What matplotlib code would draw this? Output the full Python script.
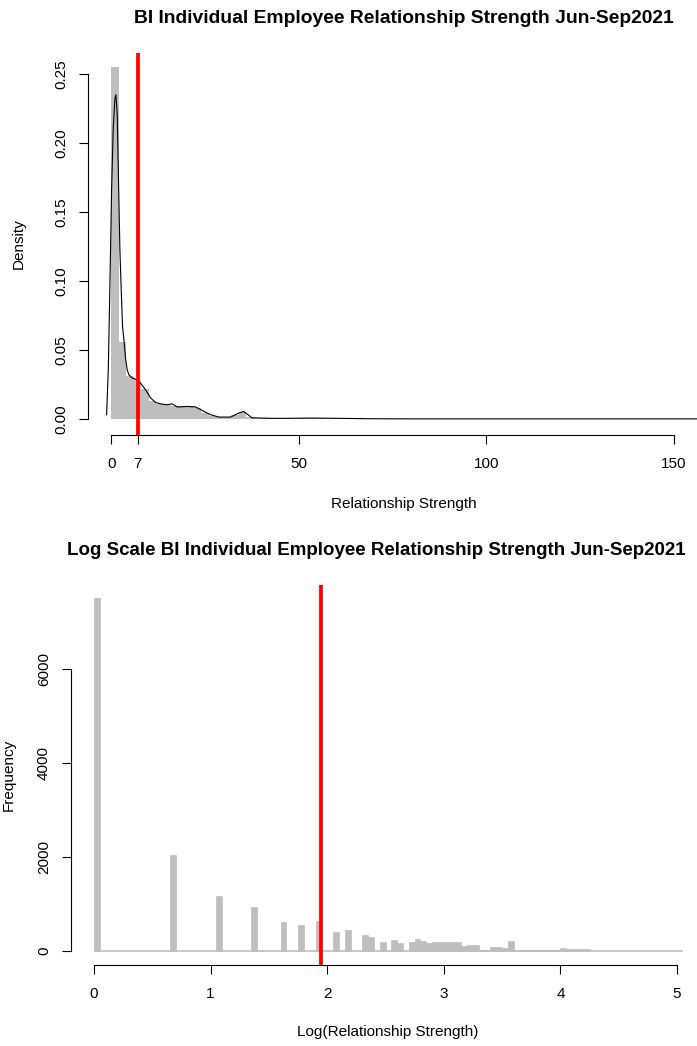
import numpy as np
import matplotlib
matplotlib.use("Agg")
import matplotlib.pyplot as plt

plt.rcParams['font.family'] = ['Liberation Sans', 'DejaVu Sans']

# ---------------- data: top panel (density histogram, bin width 2) ----------------
top_bin_edges = [0, 2, 4, 6, 8, 10, 12, 14, 16, 18, 20, 22, 24, 26, 28, 30, 32, 34,
                 36, 38, 40, 42, 44, 46, 48, 50, 52, 54, 56, 58, 60]
top_density = [0.2549, 0.0556, 0.0313, 0.0284, 0.0217, 0.0127, 0.0110, 0.0101,
               0.0094, 0.0094, 0.0094, 0.0080, 0.0043, 0.0019, 0.0014, 0.0014,
               0.0030, 0.0048, 0.0014, 0.0006, 0.0005, 0.0005, 0.0005, 0.0005,
               0.0005, 0.0006, 0.0006, 0.0005, 0.0005, 0.0005]

kde_x = [-1.25, -0.8, -0.36, 0.08, 0.52, 0.96, 1.23, 1.58, 1.94, 2.3, 2.65, 3.0,
         3.37, 3.8, 4.24, 4.7, 5.58, 6.47, 7.8, 9.13, 10.5, 11.8, 13.1, 14.9,
         16.2, 17.6, 20.2, 22.5, 24.7, 26.5, 28.7, 31.8, 34.0, 35.3, 36.2, 37.5,
         42.3, 47.6, 52.9, 60.0, 68.9, 80.0, 100.0, 130.0, 162.0]
kde_y = [0.0031, 0.0357, 0.098, 0.166, 0.211, 0.232, 0.235, 0.221, 0.1705, 0.122,
         0.0934, 0.067, 0.0573, 0.044, 0.0356, 0.032, 0.0296, 0.0289, 0.026,
         0.0212, 0.0152, 0.012, 0.011, 0.0103, 0.011, 0.0087, 0.0091, 0.0087,
         0.0055, 0.0031, 0.0014, 0.0014, 0.0043, 0.0055, 0.0036, 0.0009, 0.0005,
         0.0005, 0.0007, 0.0005, 0.0002, 0.0001, 0.0001, 0.0001, 0.0001]

top_marker = 7
top_xticks = [0, 7, 50, 100, 150]
top_yticks = [0.00, 0.05, 0.10, 0.15, 0.20, 0.25]
top_ytick_labels = ['0.00', '0.05', '0.10', '0.15', '0.20', '0.25']

# ---------------- data: bottom panel (frequency histogram of log values, bin width 0.05) ----------------
log_bin_left = [0.00, 0.65, 1.05, 1.35, 1.60, 1.75, 1.90, 2.05, 2.15, 2.30, 2.35,
                2.45, 2.55, 2.60, 2.70, 2.75, 2.80, 2.85, 2.90, 2.95, 3.00, 3.05,
                3.10, 3.15, 3.20, 3.25, 3.30, 3.35, 3.40, 3.45, 3.50, 3.55, 3.60,
                3.65, 3.70, 3.75, 3.80, 3.85, 3.90, 3.95, 4.00, 4.05, 4.10, 4.15,
                4.20]
log_counts = [7514, 2030, 1160, 925, 605, 540, 625, 390, 448, 326, 284,
              177, 220, 156, 177, 241, 198, 160, 175, 175, 175, 175,
              175, 100, 115, 115, 15, 15, 70, 80, 50, 200, 15,
              15, 15, 15, 15, 15, 15, 15, 50, 40, 28, 28,
              28]
log_bin_width = 0.05
log_range_end = 5.05
bottom_marker = np.log(7)
bottom_xticks = [0, 1, 2, 3, 4, 5]
bottom_yticks = [0, 2000, 4000, 6000]

GRAY = '#BEBEBE'
RED = '#FF0000'

W, H = 697, 1046
fig = plt.figure(figsize=(W / 100, H / 100), dpi=100)


def ax_rect(left, top, right, bottom):
    return [left / W, 1 - bottom / H, (right - left) / W, (bottom - top) / H]


def style_axes(ax):
    for s in ['top', 'right']:
        ax.spines[s].set_visible(False)
    for s in ['left', 'bottom']:
        ax.spines[s].set_linewidth(0.8)
    ax.tick_params(direction='out', length=6.2, width=0.8, labelsize=11,
                   colors='black')
    ax.tick_params(axis='x', pad=10)
    ax.tick_params(axis='y', pad=8, labelrotation=90)
    for lab in ax.get_yticklabels():
        lab.set_va('center')


# ---------------- top panel ----------------
ax1 = fig.add_axes(ax_rect(87.7, 53, 720, 434.5))
ax1.bar(top_bin_edges[:-1], top_density, width=2, align='edge', color=GRAY,
        linewidth=0, zorder=1)
ax1.plot(kde_x, kde_y, color='black', lw=0.8, zorder=2)
ax1.axvline(top_marker, color=RED, lw=2.7, zorder=3)
ax1.set_xlim(-6.29, 162.3)
ax1.set_ylim(-0.01123, 0.2652)
ax1.set_xticks(top_xticks)
ax1.set_xticklabels([str(t) for t in top_xticks])
ax1.set_yticks(top_yticks)
ax1.set_yticklabels(top_ytick_labels)
ax1.spines['bottom'].set_bounds(0, 150)
ax1.spines['left'].set_bounds(0, 0.25)
style_axes(ax1)
ax1.set_xlabel('Relationship Strength', fontsize=11)
ax1.xaxis.set_label_coords(0.5, -0.164)
ax1.set_title('BI Individual Employee Relationship Strength Jun-Sep2021',
              fontsize=13.9, fontweight='bold', pad=21.5)
fig.text(19 / W, 1 - 243.5 / H, 'Density', rotation=90, ha='center',
         va='center', fontsize=11)

# ---------------- bottom panel ----------------
ax2 = fig.add_axes(ax_rect(70.7, 585, 705, 965))
ax2.hlines(0, 0, log_range_end, color=GRAY, lw=1.2, zorder=1)
ax2.bar(log_bin_left, log_counts, width=log_bin_width, align='edge', color=GRAY,
        edgecolor=GRAY, linewidth=0.5, zorder=1)
ax2.axvline(bottom_marker, color=RED, lw=2.7, zorder=3)
ax2.set_xlim(-0.2, 5.24)
ax2.set_ylim(-305, 7797)
ax2.set_xticks(bottom_xticks)
ax2.set_xticklabels([str(t) for t in bottom_xticks])
ax2.set_yticks(bottom_yticks)
ax2.set_yticklabels([str(t) for t in bottom_yticks])
ax2.spines['bottom'].set_bounds(0, 5)
ax2.spines['left'].set_bounds(0, 6000)
style_axes(ax2)
ax2.set_xlabel('Log(Relationship Strength)', fontsize=11)
ax2.xaxis.set_label_coords(0.5, -0.158)
fig.text(67 / W, 1 - 555 / H,
         'Log Scale BI Individual Employee Relationship Strength Jun-Sep2021',
         ha='left', va='baseline', fontsize=13.5, fontweight='bold')
fig.text(8.8 / W, 1 - 775 / H, 'Frequency', rotation=90, ha='center',
         va='center', fontsize=11)

fig.savefig('out.png', dpi=100)
